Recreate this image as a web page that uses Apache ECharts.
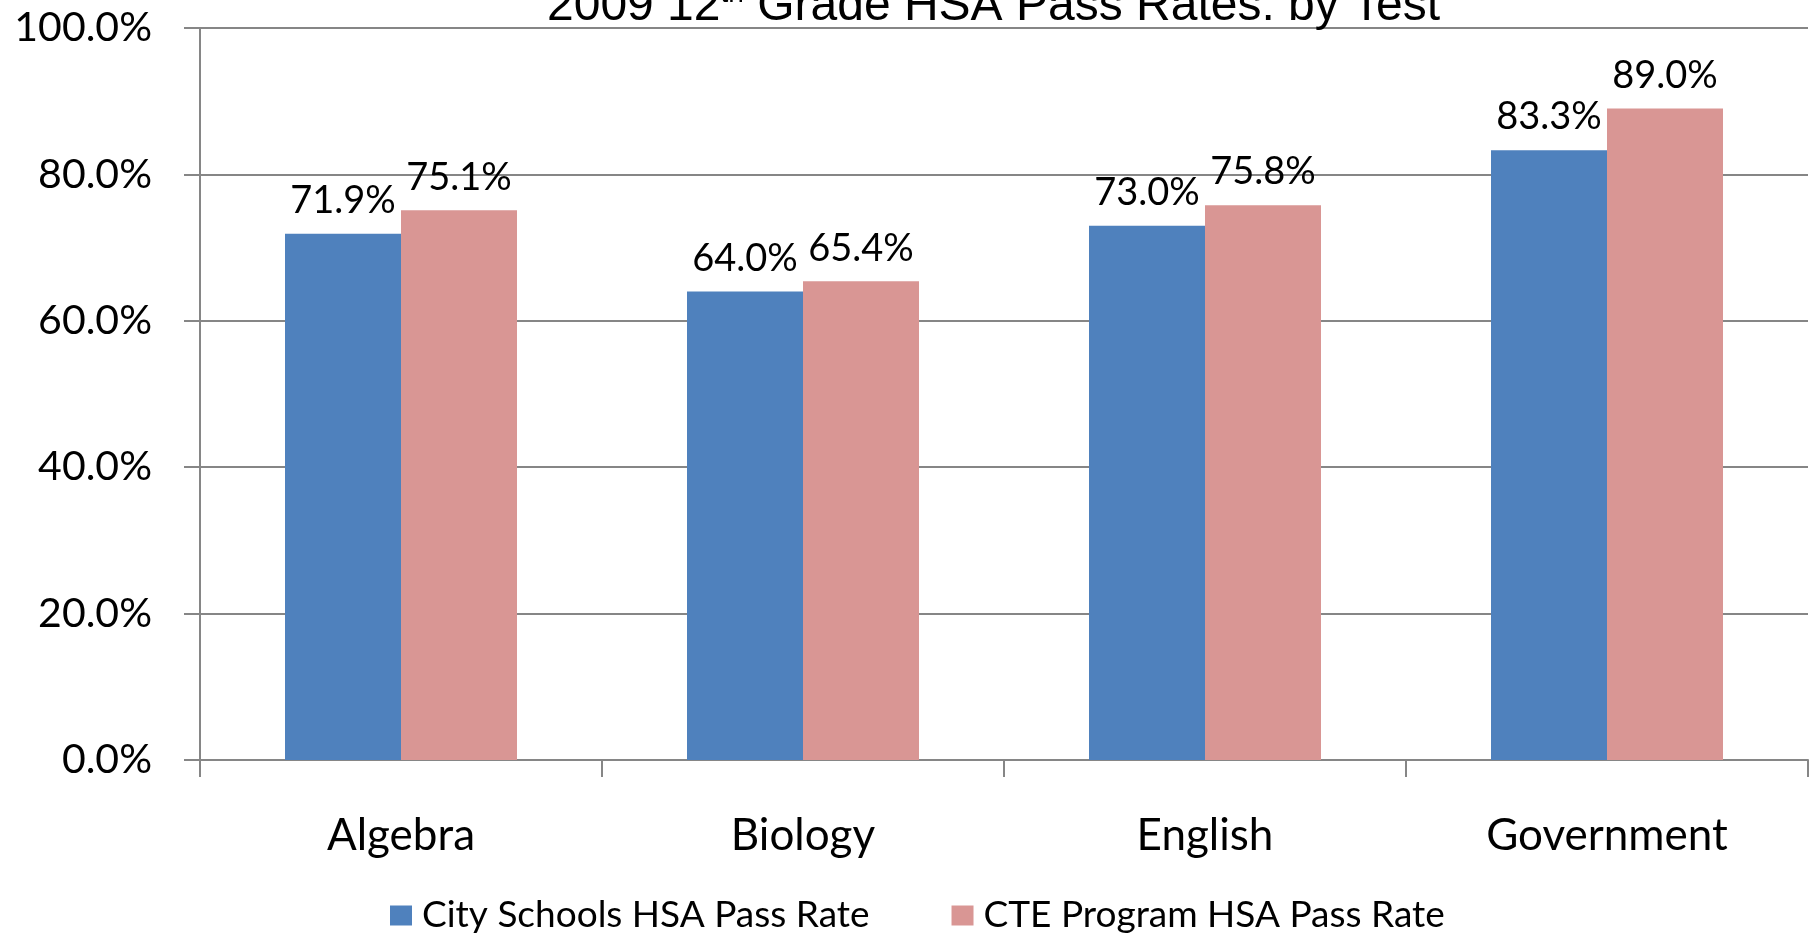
<!DOCTYPE html>
<html>
<head>
<meta charset="utf-8">
<style>
  html, body { margin: 0; padding: 0; background: #fff; }
  #chart { width: 1815px; height: 935px; }
</style>
<script src="https://cdn.jsdelivr.net/npm/echarts@6/dist/echarts.min.js"></script>
</head>
<body>
<div id="chart"></div>
<script>
const categories = ['Algebra', 'Biology', 'English', 'Government']
const citySchools = [71.9, 64.0, 73.0, 83.3]
const cteProgram = [75.1, 65.4, 75.8, 89.0]
const seriesNames = ['City Schools HSA Pass Rate', 'CTE Program HSA Pass Rate']
const yTicks = [0, 20, 40, 60, 80, 100]

const axisGray = '#868686'
const pct = v => Number(v).toFixed(1) + '%'

const barLabel = {
  show: true,
  position: 'top',
  distance: 14,
  color: '#000',
  fontFamily: 'Lato',
  fontSize: 38,
  formatter: p => pct(p.value)
}

const options = {
  animation: false,
  color: ['#4F81BD', '#D99694'],
  title: {
    text: '2009 12{sup|th} Grade HSA Pass Rates: by Test',
    left: 542,
    top: -25,
    textStyle: {
      fontFamily: 'Liberation Sans',
      fontWeight: 'normal',
      fontSize: 48,
      color: '#000',
      rich: {
        sup: { fontFamily: 'Liberation Sans', fontSize: 28, color: '#000', padding: [0, 0, 26, 0] }
      }
    }
  },
  legend: {
    data: seriesNames,
    left: 385,
    top: 892,
    itemWidth: 22,
    itemHeight: 20,
    itemGap: 82,
    icon: 'rect',
    textStyle: {
      fontFamily: 'Lato',
      fontSize: 37,
      color: '#000',
      padding: [0, 0, 0, 5]
    }
  },
  grid: { left: 200, right: 7, top: 28, bottom: 175, containLabel: false },
  xAxis: {
    type: 'category',
    data: categories,
    axisLine: { show: true, lineStyle: { color: axisGray, width: 2 } },
    axisTick: { show: true, length: 17, lineStyle: { color: axisGray, width: 2 } },
    axisLabel: { margin: 54, color: '#000', fontFamily: 'Lato', fontSize: 44 },
    splitLine: { show: false }
  },
  yAxis: {
    type: 'value',
    min: yTicks[0],
    max: yTicks[yTicks.length - 1],
    interval: yTicks[1] - yTicks[0],
    axisLine: { show: true, lineStyle: { color: axisGray, width: 2 } },
    axisTick: { show: true, length: 16, lineStyle: { color: axisGray, width: 2 } },
    axisLabel: { margin: 48, color: '#000', fontFamily: 'Lato', fontSize: 41, formatter: v => pct(v) },
    splitLine: { show: true, lineStyle: { color: axisGray, width: 2 } }
  },
  series: [
    { name: seriesNames[0], type: 'bar', data: citySchools, barWidth: 116, barGap: '0%', label: barLabel },
    { name: seriesNames[1], type: 'bar', data: cteProgram, barWidth: 116, barGap: '0%', label: barLabel }
  ]
}

const chart = echarts.init(document.getElementById('chart'))
chart.setOption(options)
window.addEventListener('resize', () => chart.resize())
</script>
</body>
</html>
